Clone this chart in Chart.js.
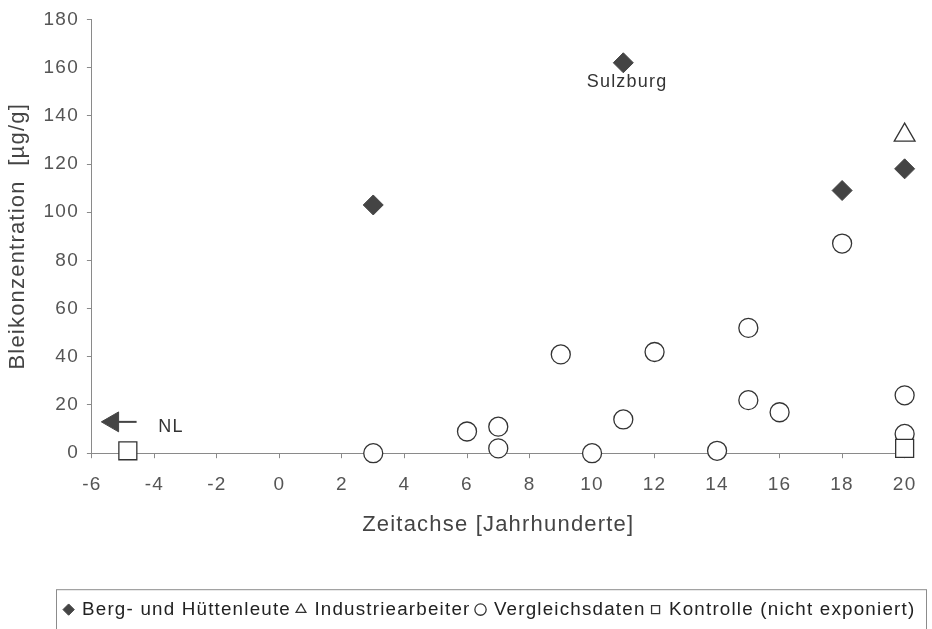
<!DOCTYPE html>
<html lang="de">
<head>
<meta charset="UTF-8">
<title>Bleikonzentration</title>
<script src="https://cdn.jsdelivr.net/npm/chart.js"></script>
<style>
  html, body { margin: 0; padding: 0; background: #fff; }
  #wrap { width: 932px; height: 629px; }
</style>
</head>
<body>
<div id="wrap"><canvas id="bleiChart" width="932" height="629"></canvas></div>
<script>
// Werte
const seriesNames = ['Berg- und Hüttenleute', 'Industriearbeiter', 'Vergleichsdaten', 'Kontrolle (nicht exponiert)'];

const bergX = [3, 11, 18, 20];
const bergY = [103, 162, 109, 118];

const industrieX = [20];
const industrieY = [132];

const vergleichX = [3, 6, 7, 7, 9, 10, 11, 12, 14, 15, 15, 16, 18, 20, 20];
const vergleichY = [0, 9, 11, 2, 41, 0, 14, 42, 1, 52, 22, 17, 87, 24, 8];

const kontrolleX = [-4.85, 20];
const kontrolleY = [1, 2];

// Pfeil "NL" (Ende, Spitze)
const pfeilX = [-4.57, -5.33];
const pfeilY = [13, 13];

// Beschriftungen im Diagramm
const notizText = ['NL', 'Sulzburg'];
const notizX = [-3.47, 11.12];
const notizY = [10.8, 154];

const xTickValues = [-6, -4, -2, 0, 2, 4, 6, 8, 10, 12, 14, 16, 18, 20];
const yTickValues = [0, 20, 40, 60, 80, 100, 120, 140, 160, 180];

const pts = (xs, ys) => xs.map((x, i) => ({ x: x, y: ys[i] }));

// etwas Sperrung wie im gescannten Original
const sperrung = {
    id: 'sperrung',
    beforeLayout(c) { c.ctx.letterSpacing = '1.2px'; },
    beforeDraw(c) { c.ctx.letterSpacing = '1.2px'; }
};

// Legende verschieben und einrahmen
const legendenRahmen = {
    id: 'legendenRahmen',
    afterLayout(c) {
        c.legend.left = 44;
        c.legend.right = 936;
    },
    afterDraw(c) {
        const l = c.legend, ctx = c.ctx;
        ctx.save();
        ctx.strokeStyle = '#8c8c8c';
        ctx.lineWidth = 1;
        ctx.strokeRect(56.5, l.top - 4.5, 870, 80);
        ctx.restore();
    }
};

const notizen = {
    id: 'notizen',
    afterDatasetsDraw(c) {
        const ctx = c.ctx;
        ctx.save();
        ctx.font = '18px "Liberation Sans", Arial, sans-serif';
        ctx.fillStyle = '#333';
        ctx.textAlign = 'center';
        ctx.textBaseline = 'middle';
        notizText.forEach((t, i) => {
            ctx.fillText(t, c.scales.x.getPixelForValue(notizX[i]), c.scales.y.getPixelForValue(notizY[i]));
        });
        ctx.restore();
    }
};

Chart.defaults.font.family = '"Liberation Sans", Arial, sans-serif';

const ctx = document.getElementById('bleiChart').getContext('2d');
new Chart(ctx, {
    type: 'scatter',
    data: {
        datasets: [{
            label: seriesNames[0],
            data: pts(bergX, bergY),
            pointStyle: 'rectRot',
            pointRadius: 10,
            backgroundColor: '#444',
            borderColor: '#444',
            pointBorderWidth: 1,
            clip: false
        }, {
            label: seriesNames[1],
            data: pts(industrieX, industrieY),
            pointStyle: 'triangle',
            pointRadius: 12,
            backgroundColor: '#fff',
            borderColor: '#333',
            pointBorderWidth: 1.3,
            clip: false
        }, {
            label: seriesNames[2],
            data: pts(vergleichX, vergleichY),
            pointStyle: 'circle',
            pointRadius: 9.5,
            backgroundColor: '#fff',
            borderColor: '#333',
            pointBorderWidth: 1.3,
            clip: false
        }, {
            label: seriesNames[3],
            data: pts(kontrolleX, kontrolleY),
            pointStyle: 'rect',
            pointRadius: 12.7,
            backgroundColor: '#fff',
            borderColor: '#333',
            pointBorderWidth: 1.3,
            order: -1,
            clip: false
        }, {
            label: 'NL',
            data: pts(pfeilX, pfeilY),
            showLine: true,
            pointStyle: 'triangle',
            pointRadius: [0, 11.5],
            pointRotation: -90,
            backgroundColor: '#444',
            borderColor: '#444',
            borderWidth: 2,
            pointBorderWidth: 1,
            clip: false
        }]
    },
    options: {
        responsive: false,
        animation: false,
        layout: { padding: { top: 19, right: 26, bottom: 0, left: 0 } },
        plugins: {
            tooltip: { enabled: false },
            legend: {
                position: 'bottom',
                labels: {
                    usePointStyle: true,
                    boxWidth: 8,
                    boxHeight: 8,
                    padding: 6,
                    color: '#222',
                    font: { size: 18.8 },
                    filter: item => item.datasetIndex < 4,
                    sort: (a, b) => a.datasetIndex - b.datasetIndex
                }
            }
        },
        scales: {
            x: {
                type: 'linear',
                min: -6,
                max: 20,
                afterBuildTicks: s => { s.ticks = xTickValues.map(v => ({ value: v })); },
                grid: { drawOnChartArea: false, drawTicks: true, tickLength: 5, tickColor: '#8a8a8a' },
                border: { color: '#8a8a8a', width: 1 },
                ticks: { color: '#555', font: { size: 19 }, padding: 15.6, maxRotation: 0 },
                title: {
                    display: true,
                    text: 'Zeitachse [Jahrhunderte]',
                    color: '#444',
                    font: { size: 22 },
                    padding: { top: 0, bottom: 55.6 }
                }
            },
            y: {
                min: 0,
                max: 180,
                afterBuildTicks: s => { s.ticks = yTickValues.map(v => ({ value: v })); },
                grid: { drawOnChartArea: false, drawTicks: true, tickLength: 5, tickColor: '#8a8a8a' },
                border: { color: '#8a8a8a', width: 1 },
                ticks: { color: '#555', font: { size: 19 }, padding: 8 },
                title: {
                    display: true,
                    text: 'Bleikonzentration  [µg/g]',
                    color: '#444',
                    font: { size: 22 },
                    padding: { top: 5, bottom: 4.2 }
                }
            }
        }
    },
    plugins: [sperrung, legendenRahmen, notizen]
});
</script>
</body>
</html>
